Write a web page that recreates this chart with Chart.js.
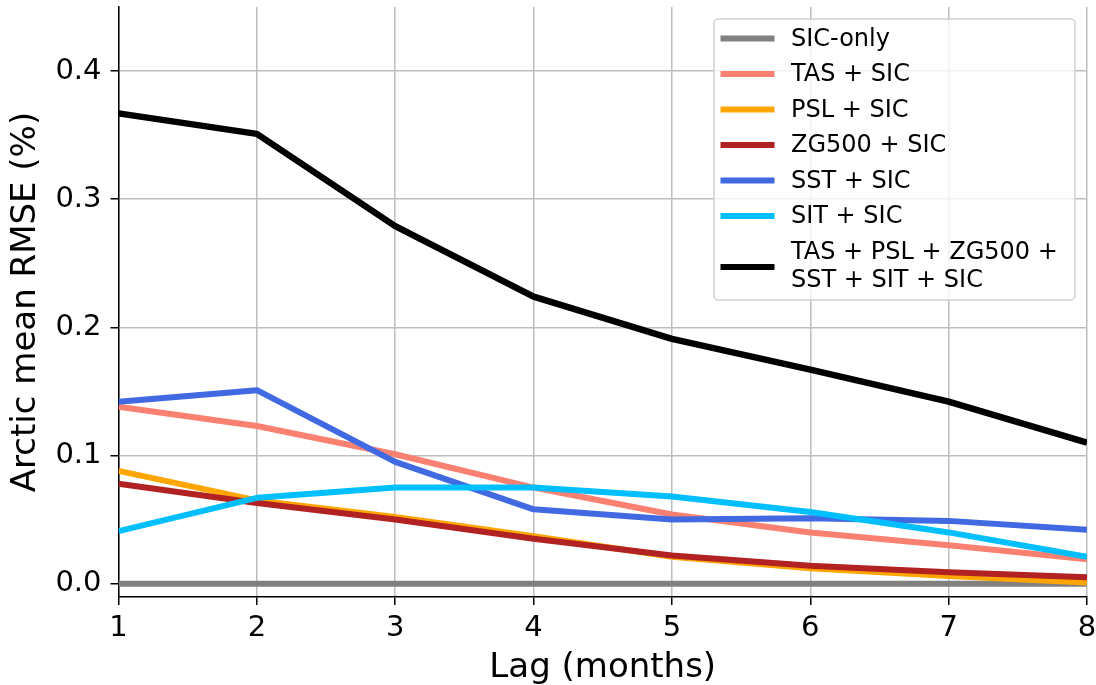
<!DOCTYPE html>
<html>
<head>
<meta charset="utf-8">
<script src="https://cdn.jsdelivr.net/npm/chart.js@4"></script>
<style>
  html, body { margin: 0; padding: 0; background: #ffffff; }
  #wrap { width: 1096px; height: 685px; }
</style>
</head>
<body>
<div id="wrap"><canvas id="chart" width="1096" height="685"></canvas></div>
<script>
// Forecast lag in months
const lags = [1, 2, 3, 4, 5, 6, 7, 8];

// Arctic mean RMSE (%) per predictor set
const sicOnly  = [0.000, 0.000, 0.000, 0.000, 0.000, 0.000, 0.000, 0.000];
const tasSic   = [0.138, 0.123, 0.101, 0.075, 0.054, 0.040, 0.030, 0.019];
const pslSic   = [0.088, 0.065, 0.052, 0.037, 0.021, 0.012, 0.006, 0.001];
const zg500Sic = [0.078, 0.063, 0.050, 0.035, 0.022, 0.014, 0.009, 0.005];
const sstSic   = [0.142, 0.151, 0.095, 0.058, 0.050, 0.051, 0.049, 0.042];
const sitSic   = [0.041, 0.067, 0.075, 0.075, 0.068, 0.056, 0.040, 0.021];
const allSic   = [0.367, 0.351, 0.279, 0.224, 0.191, 0.167, 0.142, 0.110];

const seriesNames = [
  'SIC-only',
  'TAS + SIC',
  'PSL + SIC',
  'ZG500 + SIC',
  'SST + SIC',
  'SIT + SIC',
  'TAS + PSL + ZG500 + SST + SIT + SIC'
];
const seriesValues = [sicOnly, tasSic, pslSic, zg500Sic, sstSic, sitSic, allSic];
const seriesColors = ['#808080', '#fa8072', '#ffa500', '#b22222', '#4169e1', '#00bfff', '#000000'];

const yTicks = [0.0, 0.1, 0.2, 0.3, 0.4];
const xTicks = [1, 2, 3, 4, 5, 6, 7, 8];

const FONT = 'DejaVu Sans';

const datasets = seriesNames.map((name, i) => ({
  label: name,
  data: lags.map((lag, j) => ({ x: lag, y: seriesValues[i][j] })),
  borderColor: seriesColors[i],
  backgroundColor: seriesColors[i],
  borderWidth: i === seriesNames.length - 1 ? 6.5 : 6,
  pointRadius: 0,
  pointHoverRadius: 0,
  tension: 0,
  fill: false,
  borderJoinStyle: 'round',
  borderCapStyle: 'butt',
  order: seriesNames.length - i
}));

// Scales keep no extra room for overhanging tick labels; layout padding decides the plot box
function noScalePadding(s) {
  s.paddingTop = 0;
  s.paddingBottom = 0;
  s.paddingLeft = 0;
  s.paddingRight = 0;
}

// Legend box in the upper right of the plot, with a two-line final entry
const boxLegend = {
  id: 'boxLegend',
  afterDatasetsDraw(chart) {
    const ctx = chart.ctx;
    const x0 = 714, y0 = 19, w = 361, h = 281;
    ctx.save();
    ctx.beginPath();
    if (ctx.roundRect) ctx.roundRect(x0, y0, w, h, 4); else ctx.rect(x0, y0, w, h);
    ctx.fillStyle = 'rgba(255,255,255,0.8)';
    ctx.fill();
    ctx.lineWidth = 1.5;
    ctx.strokeStyle = '#d0d0d0';
    ctx.stroke();

    ctx.font = '24px "' + FONT + '"';
    ctx.fillStyle = '#000000';
    ctx.textBaseline = 'middle';
    ctx.textAlign = 'left';
    const rowStep = 35.5;
    let y = 38.5;
    chart.data.datasets.forEach((ds, i) => {
      let lines = [ds.label];
      if (i === chart.data.datasets.length - 1) {
        lines = ['TAS + PSL + ZG500 +', 'SST + SIT + SIC'];
      }
      const handleY = lines.length > 1 ? y + 15.5 : y;
      ctx.beginPath();
      ctx.moveTo(720.5, handleY);
      ctx.lineTo(774.5, handleY);
      ctx.lineWidth = 6;
      ctx.lineCap = 'butt';
      ctx.strokeStyle = ds.borderColor;
      ctx.stroke();
      lines.forEach((t, k) => ctx.fillText(t, 791, y + 1 + k * 28.5));
      y += rowStep;
    });
    ctx.restore();
  }
};

new Chart(document.getElementById('chart'), {
  type: 'line',
  data: { datasets },
  plugins: [boxLegend],
  options: {
    responsive: false,
    animation: false,
    events: [],
    layout: { padding: { top: 7, right: 9, left: 0, bottom: 0 } },
    plugins: {
      legend: { display: false },
      tooltip: { enabled: false }
    },
    scales: {
      x: {
        type: 'linear',
        min: 1,
        max: 8,
        afterBuildTicks: s => { s.ticks = xTicks.map(v => ({ value: v })); },
        afterFit: s => { s.height = 88; noScalePadding(s); },
        ticks: {
          color: '#000000',
          font: { family: FONT, size: 29 },
          padding: 6,
          maxRotation: 0,
          callback: v => String(v)
        },
        grid: {
          color: '#bdbdbd',
          lineWidth: 1.5,
          tickColor: '#000000',
          tickLength: 8,
          tickWidth: 1.5,
          drawTicks: true
        },
        border: { display: true, color: '#000000', width: 1.5 },
        title: {
          display: true,
          text: 'Lag (months)',
          color: '#000000',
          font: { family: FONT, size: 34, lineHeight: 1.0 },
          padding: { top: 0, bottom: 0 }
        }
      },
      y: {
        type: 'linear',
        min: -0.0104,
        max: 0.45,
        afterBuildTicks: s => { s.ticks = yTicks.map(v => ({ value: v })); },
        afterFit: s => { s.width = 118.5; noScalePadding(s); },
        ticks: {
          color: '#000000',
          font: { family: FONT, size: 29 },
          padding: 9,
          callback: v => Number(v).toFixed(1)
        },
        grid: {
          color: '#bdbdbd',
          lineWidth: 1.5,
          tickColor: '#000000',
          tickLength: 8,
          tickWidth: 1.5,
          drawTicks: true
        },
        border: { display: true, color: '#000000', width: 1.5 },
        title: {
          display: true,
          text: 'Arctic mean RMSE (%)',
          color: '#000000',
          font: { family: FONT, size: 34, lineHeight: 1.0 },
          padding: { top: 9, bottom: 0 }
        }
      }
    }
  }
});
</script>
</body>
</html>
